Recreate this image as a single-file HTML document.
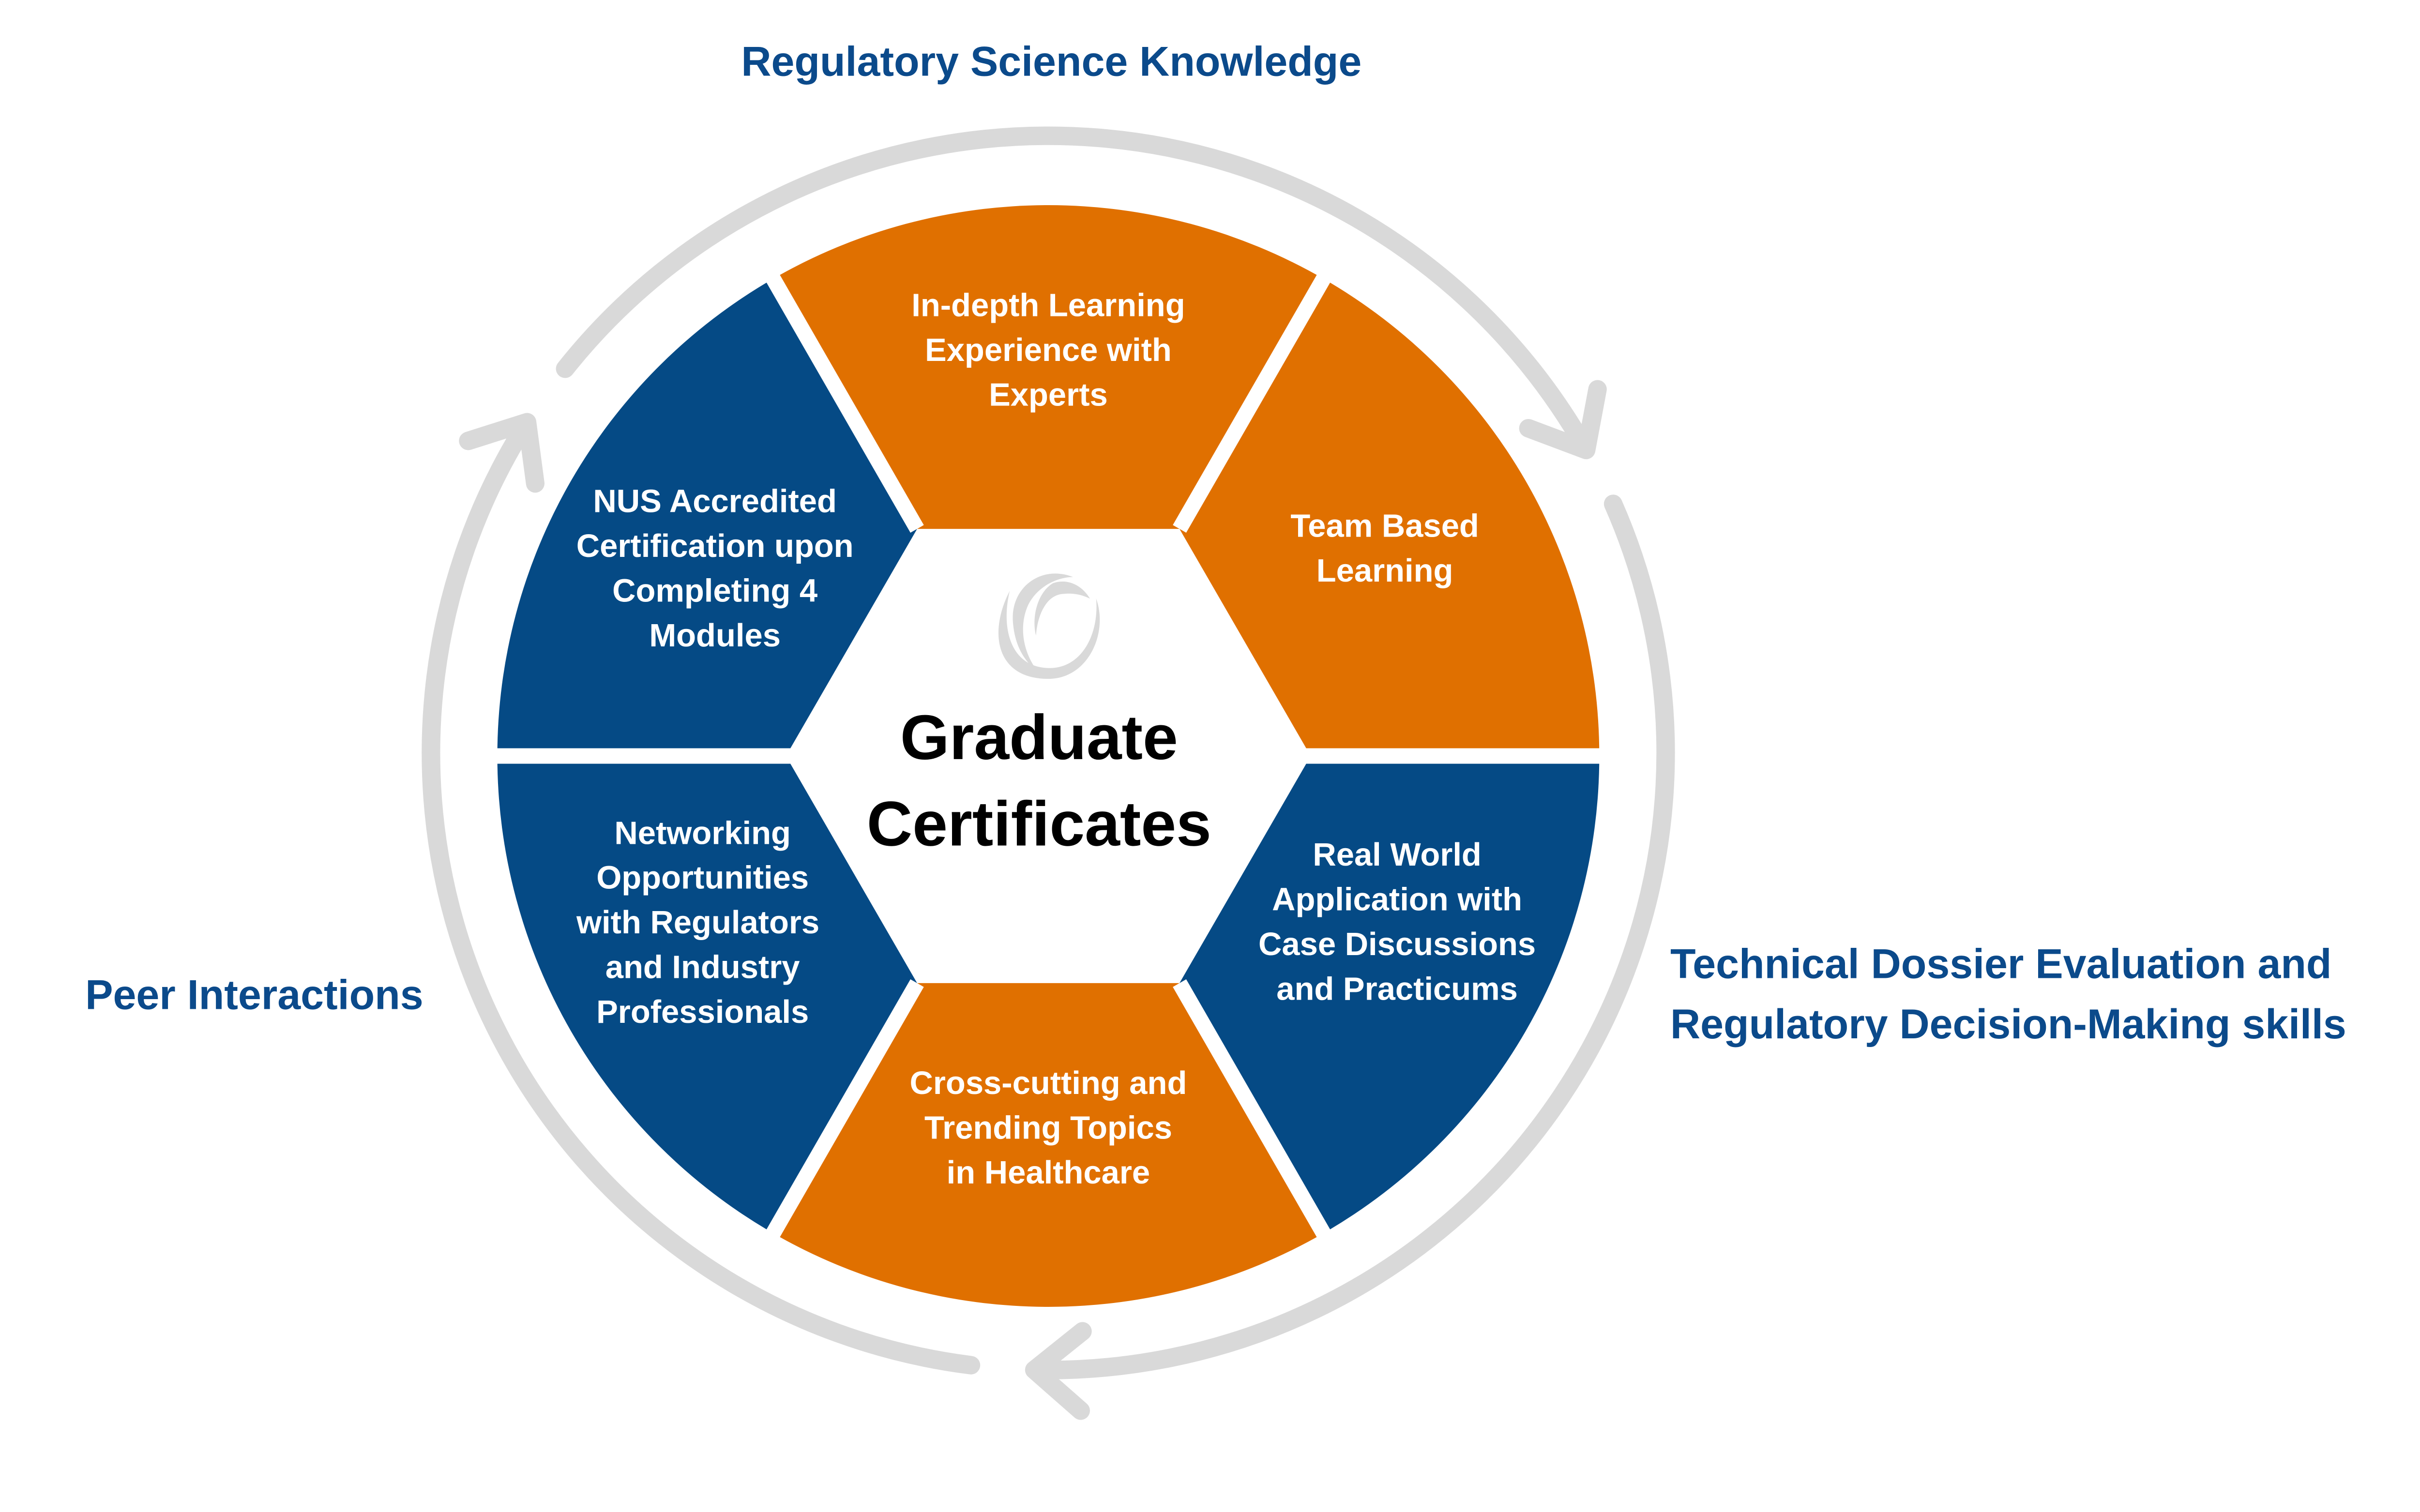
<!DOCTYPE html>
<html><head><meta charset="utf-8"><style>
html,body{margin:0;padding:0;background:#fff;overflow:hidden;}
svg{display:block;}
text{font-family:"Liberation Sans",Arial,sans-serif;font-weight:bold;}
</style></head><body>
<svg id="s" xmlns="http://www.w3.org/2000/svg" width="5263" height="3125" viewBox="0 0 1650 980">
<rect width="1650" height="980" fill="#fff"/>
<g id="arcs" fill="none" stroke="#D9D9D9" stroke-width="12" stroke-linecap="round" stroke-linejoin="round"></g>
<path d="M500.5,180.8 A357,357 0 0 1 857.5,180.8 L764,342.8 L594,342.8 Z" fill="#E07000"/>
<path d="M857.5,180.8 A357,357 0 0 1 1036,490 L849,490 L764,342.8 Z" fill="#E07000"/>
<path d="M1036,490 A357,357 0 0 1 857.5,799.2 L764,637.2 L849,490 Z" fill="#054A85"/>
<path d="M857.5,799.2 A357,357 0 0 1 500.5,799.2 L594,637.2 L764,637.2 Z" fill="#E07000"/>
<path d="M500.5,799.2 A357,357 0 0 1 322,490 L509,490 L594,637.2 Z" fill="#054A85"/>
<path d="M322,490 A357,357 0 0 1 500.5,180.8 L594,342.8 L509,490 Z" fill="#054A85"/>
<g stroke="#fff" stroke-width="10">
<line x1="300" y1="490" x2="512" y2="490"/>
<line x1="846" y1="490" x2="1060" y2="490"/>
<line x1="594" y1="342.8" x2="490" y2="162"/>
<line x1="764" y1="342.8" x2="868" y2="162"/>
<line x1="594" y1="637.2" x2="490" y2="818"/>
<line x1="764" y1="637.2" x2="868" y2="818"/>
</g>
<g fill="#D9D9D9">
<path d="M654,383 C640,410 645,440 679,440 C705,440 718,410 710,388 C712,412 700,433 680,433 C655,433 648,408 654,383 Z"/>
<path d="M695,374 C675,366 655,380 656,402 C657,420 665,430 672,435 C662,422 660,405 666,392 C672,380 685,374 695,374 Z"/>
<path d="M706,388 C700,378 690,375 682,378 C672,384 668,400 671,412 C672,398 678,386 688,385 C696,384 702,386 706,388 Z"/>
</g>
<g fill="#fff" font-size="21" text-anchor="middle">
<text x="679" y="205">In-depth Learning</text>
<text x="679" y="234">Experience with</text>
<text x="679" y="263">Experts</text>
<text x="897" y="348">Team Based</text>
<text x="897" y="377">Learning</text>
<text x="905" y="561">Real World</text>
<text x="905" y="590">Application with</text>
<text x="905" y="619">Case Discussions</text>
<text x="905" y="648">and Practicums</text>
<text x="679" y="709">Cross-cutting and</text>
<text x="679" y="738">Trending Topics</text>
<text x="679" y="767">in Healthcare</text>
<text x="455" y="547">Networking</text>
<text x="455" y="576">Opportunities</text>
<text x="452" y="605">with Regulators</text>
<text x="455" y="634">and Industry</text>
<text x="455" y="663">Professionals</text>
<text x="463" y="332">NUS Accredited</text>
<text x="463" y="361">Certification upon</text>
<text x="463" y="390">Completing 4</text>
<text x="463" y="419">Modules</text>
</g>
<g fill="#000" font-size="41" text-anchor="middle">
<text x="673" y="492">Graduate</text>
<text x="673" y="548">Certificates</text>
</g>
<g fill="#0B4A8B" font-size="27">
<text x="681" y="49" text-anchor="middle">Regulatory Science Knowledge</text>
<text x="55" y="654">Peer Interactions</text>
<text x="1082" y="634">Technical Dossier Evaluation and</text>
<text x="1082" y="673">Regulatory Decision-Making skills</text>
</g>
</svg>
<script>
(function(){
var cx=679,cy=488,R=400,g=document.getElementById('arcs'),ns='http://www.w3.org/2000/svg';
function P(a){a=a*Math.PI/180;return [cx+R*Math.cos(a),cy+R*Math.sin(a)];}
function arc(a1,a2){
 var p1=P(a1),p2=P(a2),large=(a2-a1)>180?1:0;
 var d='M'+p1[0]+','+p1[1]+' A'+R+','+R+' 0 '+large+' 1 '+p2[0]+','+p2[1];
 var t=a2*Math.PI/180,tx=-Math.sin(t),ty=Math.cos(t),L=40;
 [40,-40].forEach(function(s){
  var r=s*Math.PI/180,bx=-tx,by=-ty;
  var ax=bx*Math.cos(r)-by*Math.sin(r),ay=bx*Math.sin(r)+by*Math.cos(r);
  d+=' M'+p2[0]+','+p2[1]+' L'+(p2[0]+ax*L)+','+(p2[1]+ay*L);
 });
 var e=document.createElementNS(ns,'path');e.setAttribute('d',d);g.appendChild(e);
}
arc(218.5,330.6);
arc(336.2,451.3);
arc(97.2,212.4);
})();
</script>
</body></html>
